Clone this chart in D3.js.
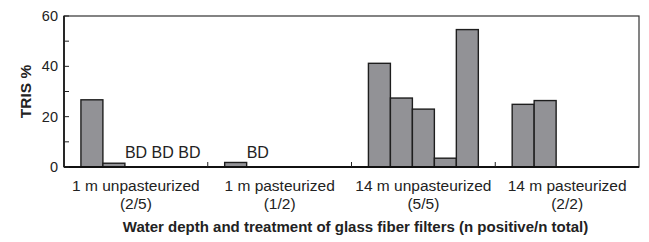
<!DOCTYPE html>
<html>
<head>
<meta charset="utf-8">
<script src="https://cdn.jsdelivr.net/npm/d3@7"></script>
<style>
  body { margin: 0; background: #fff; }
  text { font-family: Arial, "Liberation Sans", sans-serif; fill: #222; }
</style>
</head>
<body>
<svg id="chart" width="649" height="242"></svg>
<script>
// groups on the x axis
const groups = ["1 m unpasteurized", "1 m pasteurized", "14 m unpasteurized", "14 m pasteurized"];
const groupCounts = ["(2/5)", "(1/2)", "(5/5)", "(2/2)"];
// TRIS % per filter, null = nothing drawn
const unpast1m = [26.7, 1.5, null, null, null];
const past1m = [1.8, null, null, null, null];
const unpast14m = [41.2, 27.4, 23.0, 3.5, 54.6];
const past14m = [24.9, 26.4, null, null, null];
// below-detection filters: group index -> slot indexes
const bdSlots = [[0, [2, 3, 4]], [1, [1]]];
const yTicks = [0, 20, 40, 60];
const yMinorTicks = [10, 30, 50];

const seriesByGroup = [unpast1m, past1m, unpast14m, past14m];

const svg = d3.select("#chart");
const width = +svg.attr("width");
const height = +svg.attr("height");
const margin = { top: 16, right: 10, bottom: 75, left: 64 };
const innerW = width - margin.left - margin.right;
const innerH = height - margin.top - margin.bottom;

const g = svg.append("g")
  .attr("transform", `translate(${margin.left},${margin.top})`);

const x = d3.scaleBand().domain(d3.range(groups.length)).range([0, innerW]);
const slot = d3.scaleBand().domain(d3.range(5)).range([0, x.bandwidth()])
  .paddingInner(0).paddingOuter(0.77);
const y = d3.scaleLinear().domain([0, 60]).range([innerH, 0]);

// bars
seriesByGroup.forEach((vals, gi) => {
  g.selectAll(null)
    .data(vals.map((v, i) => ({ v, i })).filter(d => d.v !== null))
    .enter()
    .append("rect")
    .attr("x", d => x(gi) + slot(d.i))
    .attr("y", d => y(d.v))
    .attr("width", slot.bandwidth())
    .attr("height", d => y(0) - y(d.v))
    .attr("fill", "#929296")
    .attr("stroke", "#1e1e1e")
    .attr("stroke-width", 1.4);
});

// BD labels, one run of text per group starting at the first empty slot
g.selectAll(".bd")
  .data(bdSlots)
  .enter()
  .append("text")
  .attr("x", d => x(d[0]) + slot(d[1][0]))
  .attr("y", y(0) - 9)
  .attr("text-anchor", "start")
  .style("font-size", "16px")
  .text(d => d[1].map(() => "BD").join(" "));

// frame
g.append("rect")
  .attr("width", innerW)
  .attr("height", innerH)
  .attr("fill", "none")
  .attr("stroke", "#333")
  .attr("stroke-width", 1.2);
g.append("line")
  .attr("x1", 0).attr("x2", innerW)
  .attr("y1", innerH).attr("y2", innerH)
  .attr("stroke", "#111").attr("stroke-width", 2);
g.append("line")
  .attr("x1", 0).attr("x2", 0)
  .attr("y1", 0).attr("y2", innerH)
  .attr("stroke", "#111").attr("stroke-width", 1.6);

// y ticks (inside)
g.selectAll(".ytick")
  .data(yTicks.concat(yMinorTicks))
  .enter()
  .append("line")
  .attr("x1", 0).attr("x2", 5)
  .attr("y1", d => y(d)).attr("y2", d => y(d))
  .attr("stroke", "#222").attr("stroke-width", 1);

g.selectAll(".ylab")
  .data(yTicks)
  .enter()
  .append("text")
  .attr("x", -6)
  .attr("y", d => y(d))
  .attr("dy", "0.35em")
  .attr("text-anchor", "end")
  .style("font-size", "14.5px")
  .text(d => d);

// group separator ticks
g.selectAll(".sep")
  .data(d3.range(1, groups.length))
  .enter()
  .append("line")
  .attr("x1", d => x(d)).attr("x2", d => x(d))
  .attr("y1", innerH).attr("y2", innerH - 5)
  .attr("stroke", "#222").attr("stroke-width", 1);

// x labels
const xl = g.selectAll(".xlab")
  .data(groups)
  .enter()
  .append("text")
  .attr("text-anchor", "middle")
  .style("font-size", "15.5px");
xl.append("tspan")
  .attr("x", (d, i) => x(i) + x.bandwidth() / 2)
  .attr("y", innerH + 24)
  .text(d => d);
xl.append("tspan")
  .attr("x", (d, i) => x(i) + x.bandwidth() / 2)
  .attr("y", innerH + 42)
  .text((d, i) => groupCounts[i]);

// axis titles
g.append("text")
  .attr("x", innerW / 2 + 4)
  .attr("y", innerH + 65)
  .attr("text-anchor", "middle")
  .style("font-size", "15px")
  .style("font-weight", "bold")
  .text("Water depth and treatment of glass fiber filters (n positive/n total)");

g.append("text")
  .attr("transform", `translate(${-margin.left + 31},${innerH / 2}) rotate(-90)`)
  .attr("text-anchor", "middle")
  .style("font-size", "15.5px")
  .style("font-weight", "bold")
  .text("TRIS %");
</script>
</body>
</html>
